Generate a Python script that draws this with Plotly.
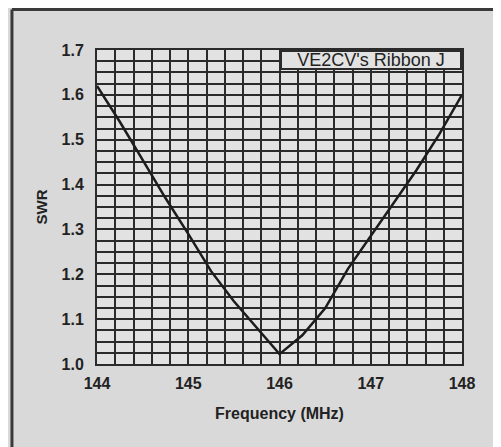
import plotly.graph_objects as go

freq_mhz = [144.0, 144.25, 144.5, 144.75, 145.0, 145.25, 145.5, 145.75, 146.0,
            146.25, 146.5, 146.75, 147.0, 147.25, 147.5, 147.75, 148.0]
swr = [1.62, 1.54, 1.455, 1.37, 1.29, 1.207, 1.14, 1.081, 1.022,
       1.064, 1.124, 1.212, 1.286, 1.36, 1.432, 1.512, 1.60]

x_ticks = [144, 145, 146, 147, 148]
y_ticks = [1.0, 1.1, 1.2, 1.3, 1.4, 1.5, 1.6, 1.7]
y_tick_labels = ["1.0", "1.1", "1.2", "1.3", "1.4", "1.5", "1.6", "1.7"]

grid_color = "#2b2b2b"
font_main = "Liberation Sans, Arial, sans-serif"

fig = go.Figure()
fig.add_trace(
    go.Scatter(
        x=freq_mhz,
        y=swr,
        mode="lines",
        line=dict(color="#1c1c1c", width=2.5),
        showlegend=False,
        cliponaxis=False,
    )
)

# the page puts the plot 8px in from the top left corner
fig.update_layout(
    width=501,
    height=447,
    paper_bgcolor="#d9d9d9",
    plot_bgcolor="#e2e2e2",
    margin=dict(l=89, r=47, t=42, b=91),
    font=dict(family=font_main, color="#222222"),
    xaxis=dict(
        range=[144, 148],
        tickvals=x_ticks,
        ticktext=[str(v) for v in x_ticks],
        tickfont=dict(size=16, family=font_main, weight="bold"),
        showgrid=True,
        gridcolor=grid_color,
        gridwidth=2,
        minor=dict(dtick=0.2, showgrid=True, gridcolor=grid_color, gridwidth=2),
        showline=True,
        linecolor=grid_color,
        linewidth=2,
        mirror=True,
        zeroline=False,
        ticks="",
        ticklabelstandoff=4,
        title=dict(text="Frequency (MHz)", font=dict(size=16, weight="bold"), standoff=17),
    ),
    yaxis=dict(
        range=[1.0, 1.7],
        tickvals=y_ticks,
        ticktext=y_tick_labels,
        tickfont=dict(size=16, family=font_main, weight="bold"),
        showgrid=True,
        gridcolor=grid_color,
        gridwidth=2,
        minor=dict(dtick=0.025, showgrid=True, gridcolor=grid_color, gridwidth=2),
        showline=True,
        linecolor=grid_color,
        linewidth=2,
        mirror=True,
        zeroline=False,
        ticks="",
        ticklabelstandoff=8,
        title=dict(text="SWR", font=dict(size=15, weight="bold"), standoff=10),
    ),
)

fig.add_annotation(
    text="VE2CV's Ribbon J",
    xref="paper",
    yref="paper",
    x=1,
    y=1,
    xanchor="right",
    yanchor="top",
    showarrow=False,
    font=dict(size=18, color="#222222"),
    bgcolor="#e2e2e2",
    bordercolor=grid_color,
    borderwidth=2,
    borderpad=0,
    width=178,
    height=16,
    align="center",
)

# frame of the printed figure: left and top edges only
fig.add_shape(
    type="line",
    xref="paper",
    yref="paper",
    x0=-0.233,
    x1=-0.233,
    y0=-0.3,
    y1=1.129,
    line=dict(color="#3a3a3a", width=3),
    layer="below",
)
fig.add_shape(
    type="line",
    xref="paper",
    yref="paper",
    x0=-0.233,
    x1=1.3,
    y0=1.129,
    y1=1.129,
    line=dict(color="#3a3a3a", width=3),
    layer="below",
)

fig.write_html("out.html")
